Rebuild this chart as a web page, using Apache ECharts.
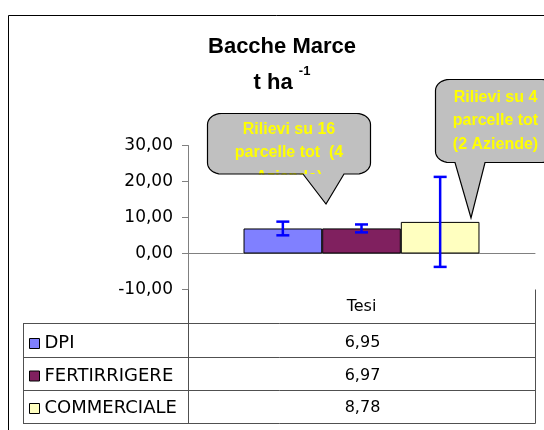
<!DOCTYPE html>
<html>
<head>
<meta charset="utf-8">
<title>Bacche Marce</title>
<script src="https://cdn.jsdelivr.net/npm/echarts@6/dist/echarts.min.js"></script>
<style>
  html, body { margin: 0; padding: 0; background: #fff; }
  #chart { width: 544px; height: 430px; }
</style>
</head>
<body>
<div id="chart"></div>
<script>
// dati
const categories = ["Tesi"];
const seriesNames = ["DPI", "FERTIRRIGERE", "COMMERCIALE"];
const values = [6.95, 6.97, 8.78];
const errors = [1.9, 1.1, 12.5]; // semi-ampiezza delle barre d'errore
const yTicks = [-10, 0, 10, 20, 30];
const colors = ["#8080ff", "#80205f", "#ffffc0"];

const fmt = v => v.toFixed(2).replace(".", ",");
const BAR_GAP = 0.32;
const GRID = { left: 188, right: 9, top: 145.5, bottom: 140.5 };
const FONT = "DejaVu Sans";
const BOLD = "Liberation Sans";

const chart = echarts.init(document.getElementById("chart"));

// serie a barre
const barSeries = seriesNames.map((name, i) => ({
  name: name,
  type: "bar",
  data: [values[i]],
  barGap: "0%",
  barCategoryGap: (BAR_GAP * 100) + "%",
  itemStyle: { color: colors[i], borderColor: "#000", borderWidth: 1 },
  silent: true,
  z: 2
}));

// barre d'errore
const errData = seriesNames.map((n, i) => [0, values[i] - errors[i], values[i] + errors[i], i]);
const errSeries = {
  type: "custom",
  data: errData,
  encode: { x: 0, y: [1, 2] },
  silent: true,
  z: 5,
  renderItem: function (params, api) {
    const k = api.value(3);
    const band = api.size([1, 0])[0];
    const bw = band * (1 - BAR_GAP) / seriesNames.length;
    const cx = api.coord([api.value(0), 0])[0] + (k - (seriesNames.length - 1) / 2) * bw;
    const top = api.coord([api.value(0), api.value(2)])[1];
    const bot = api.coord([api.value(0), api.value(1)])[1];
    const st = () => ({ stroke: "#0000ff", lineWidth: 2.5 });
    return {
      type: "group",
      children: [
        { type: "line", shape: { x1: cx, y1: top, x2: cx, y2: bot }, style: st() },
        { type: "line", shape: { x1: cx - 6.5, y1: top, x2: cx + 6.5, y2: top }, style: st() },
        { type: "line", shape: { x1: cx - 6.5, y1: bot, x2: cx + 6.5, y2: bot }, style: st() }
      ]
    };
  }
};

// tabella dati sotto il grafico
const xL = GRID.left, xR = 544 - GRID.right, yAx = 430 - GRID.bottom;
const rowY = [323.5, 357.5, 390.5, 423.5];
const lineStyle = { stroke: "#505050", lineWidth: 1 };
const tableLines = [];
rowY.forEach(y => tableLines.push({ type: "line", z: 1, shape: { x1: 23, y1: y, x2: xR + 0.5, y2: y }, style: lineStyle }));
tableLines.push({ type: "line", z: 1, shape: { x1: 23.5, y1: rowY[0], x2: 23.5, y2: rowY[3] }, style: lineStyle });
tableLines.push({ type: "line", z: 1, shape: { x1: xL + 0.5, y1: yAx, x2: xL + 0.5, y2: rowY[3] }, style: lineStyle });
tableLines.push({ type: "line", z: 1, shape: { x1: xR + 0.5, y1: yAx, x2: xR + 0.5, y2: rowY[3] }, style: lineStyle });

const tableTexts = values.map((v, i) => ({
  type: "text", z: 1,
  style: {
    text: fmt(v), x: (xL + xR) / 2 + 1, y: 343 + i * 32.5,
    fill: "#000", fontFamily: FONT, fontSize: 16,
    align: "center", verticalAlign: "middle"
  }
}));

// fumetti: rettangolo arrotondato con punta
function calloutPoints(L, R, T, B, rx, ry, bL, bR, tip) {
  const pts = [];
  const arc = (cx, cy, a0, a1) => {
    for (let s = 0; s <= 8; s++) {
      const a = (a0 + (a1 - a0) * s / 8) * Math.PI / 180;
      pts.push([cx + rx * Math.cos(a), cy + ry * Math.sin(a)]);
    }
  };
  arc(L + rx, T + ry, 180, 270);
  arc(R - rx, T + ry, 270, 360);
  arc(R - rx, B - ry, 0, 90);
  pts.push([bR, B], tip, [bL, B]);
  arc(L + rx, B - ry, 90, 180);
  return pts;
}
const c1 = calloutPoints(207.5, 370.5, 113.5, 174, 14, 11, 303, 344, [326, 204]);
const c2 = calloutPoints(435.5, 556, 79.5, 162.5, 14, 11, 455, 485, [471, 218]);

const calloutText = (t, x, y) => ({
  type: "text", z: 101, z2: 101,
  style: {
    text: t, x: x, y: y, fill: "#ffff00",
    fontFamily: BOLD, fontWeight: "bold", fontSize: 16,
    align: "center", verticalAlign: "middle"
  }
});
const callouts = [
  { type: "polygon", z: 100, z2: 100, shape: { points: c1 }, style: { fill: "#c0c0c0", stroke: null } },
  calloutText("Rilievi su 16", 289, 129.5),
  calloutText("parcelle tot  (4", 289, 153),
  calloutText("Aziende)", 289, 177.5),
  // il testo che esce dal riquadro resta nascosto
  { type: "rect", z: 102, z2: 102, shape: { x: 204, y: 174.6, width: 170, height: 16 }, style: { fill: "#fff", stroke: null } },
  { type: "polygon", z: 103, z2: 103, shape: { points: [[303, 174], [326, 204], [344, 174]] }, style: { fill: "#c0c0c0", stroke: null } },
  { type: "polygon", z: 104, z2: 104, shape: { points: c1 }, style: { fill: null, stroke: "#000", lineWidth: 1.2 } },

  { type: "polygon", z: 100, z2: 100, shape: { points: c2 }, style: { fill: "#c0c0c0", stroke: "#000", lineWidth: 1.2 } },
  calloutText("Rilievi su 4", 495.5, 97.5),
  calloutText("parcelle tot", 495.5, 121),
  calloutText("(2 Aziende)", 495.5, 144.5)
];

const option = {
  animation: false,
  backgroundColor: "#fff",
  title: {
    text: "Bacche Marce\n{n|t ha }{sup|-1}",
    left: 282,
    top: 28.5,
    padding: 0,
    textAlign: "center",
    textStyle: {
      fontFamily: BOLD, fontSize: 22, fontWeight: "bold", color: "#000", lineHeight: 36,
      rich: {
        n: { fontFamily: BOLD, fontSize: 22, fontWeight: "bold", color: "#000", lineHeight: 36 },
        sup: { fontFamily: BOLD, fontSize: 13, fontWeight: "bold", color: "#000", lineHeight: 21, verticalAlign: "top" }
      }
    }
  },
  legend: {
    data: seriesNames,
    orient: "vertical",
    left: 29,
    top: 333.5,
    padding: 0,
    itemWidth: 10,
    itemHeight: 10,
    itemGap: 12.5,
    icon: "rect",
    selectedMode: false,
    itemStyle: { borderColor: "#000", borderWidth: 1 },
    textStyle: { fontFamily: FONT, fontSize: 18, color: "#000", lineHeight: 20 }
  },
  grid: {
    left: GRID.left, right: GRID.right, top: GRID.top, bottom: GRID.bottom,
    containLabel: false, outerBoundsMode: "none"
  },
  xAxis: {
    type: "category",
    data: categories,
    axisLine: { show: true, lineStyle: { color: "#808080", width: 1 } },
    axisTick: { show: false },
    splitLine: { show: false },
    axisLabel: { fontFamily: FONT, fontSize: 16, color: "#000", margin: 7.5, lineHeight: 20 }
  },
  yAxis: {
    type: "value",
    min: yTicks[0],
    max: yTicks[yTicks.length - 1],
    interval: yTicks[1] - yTicks[0],
    axisLine: { show: true, lineStyle: { color: "#808080", width: 1 } },
    axisTick: { show: true, length: 6, lineStyle: { color: "#808080" } },
    splitLine: { show: false },
    axisLabel: { fontFamily: FONT, fontSize: 17, color: "#000", margin: 15, formatter: fmt }
  },
  graphic: [
    { type: "rect", z: 0, shape: { x: 8.5, y: 15.5, width: 600, height: 500 }, style: { fill: null, stroke: "#000", lineWidth: 1 } }
  ].concat(tableLines, tableTexts, callouts),
  series: barSeries.concat([errSeries])
};

chart.setOption(option);
</script>
</body>
</html>
